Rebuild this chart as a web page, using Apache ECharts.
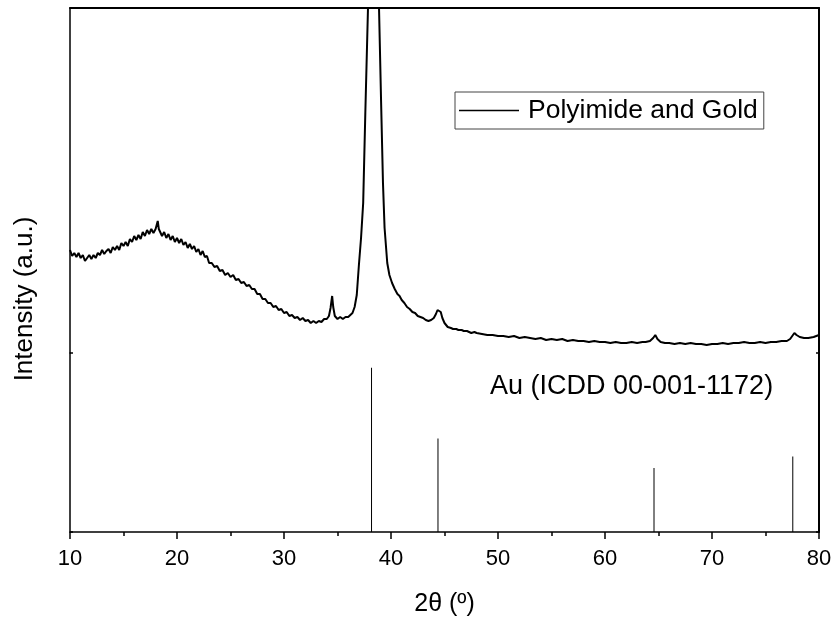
<!DOCTYPE html>
<html>
<head>
<meta charset="utf-8">
<script src="https://cdn.jsdelivr.net/npm/echarts@6/dist/echarts.min.js"></script>
<style>html,body{margin:0;padding:0;background:#fff;}#c{width:836px;height:623px;}</style>
</head>
<body>
<div id="c"></div>
<script>
// measured pattern: [2θ (deg), intensity (a.u.)]
var xrdPattern = [
  [10.0,103],[10.2,97],[10.4,100],[10.6,96],[10.8,100],[11.0,95],[11.2,98],[11.4,92],[11.6,95],[11.8,98],
  [12.0,94],[12.2,98],[12.4,95],[12.6,100],[12.8,98],[13.0,103],[13.2,99],[13.4,102],[13.6,104],[13.8,100],
  [14.0,106],[14.2,103],[14.4,107],[14.6,103],[14.8,110],[15.0,107],[15.2,111],[15.4,107],[15.6,114],[15.8,111],
  [16.0,117],[16.2,113],[16.4,118],[16.6,114],[16.8,121],[17.0,117],[17.2,123],[17.4,119],[17.6,124],[17.8,120],
  [18.0,124],[18.1,128],[18.2,132],[18.3,124],[18.4,122],[18.6,117],[18.8,121],[19.0,115],[19.2,119],[19.4,113],
  [19.6,117],[19.8,111],[20.0,115],[20.2,110],[20.4,114],[20.6,108],[20.8,111],[21.0,105],[21.2,109],[21.4,104],
  [21.6,107],[21.8,101],[22.0,104],[22.2,98],[22.4,102],[22.6,96],[22.8,97],[23.0,90],
  [23.25,90],[23.5,86],[23.75,87],[24.0,82],[24.25,83],[24.5,78],[24.75,80],[25.0,76],[25.25,78],[25.5,73],
  [25.75,74],[26.0,70],[26.25,71],[26.5,67],[26.75,68],[27.0,64],[27.25,64],[27.5,59],[27.75,59],[28.0,54],
  [28.25,54],[28.5,50],[28.75,50],[29.0,46],[29.25,47],[29.5,43],[29.75,44],[30.0,40],[30.25,41],[30.5,37],
  [30.75,38],[31.0,35],[31.25,36],[31.5,33],[31.75,35],[32.0,32],[32.25,33],[32.5,30],[32.75,32],[33.0,30],
  [33.25,32],[33.5,31],[33.75,34],[34.0,34],[34.2,37],[34.35,45],[34.5,57],[34.6,46],[34.75,37],[35.0,34],
  [35.25,36],[35.5,34],[35.75,36],[36.0,36],[36.2,38],[36.4,40],[36.6,46],[36.8,58],[37.0,88],[37.2,115],
  [37.4,150],[37.6,240],[37.85,345],[38.1,600],[38.36,720],[38.6,600],[38.88,345],[39.07,253],[39.25,170],[39.4,125],
  [39.65,90],[39.85,78],[40.1,70],[40.35,64],[40.6,59],[40.8,57],[41.0,53],[41.25,50],[41.5,46],[41.75,44],
  [42.0,41],[42.25,40],[42.5,37],[42.75,36],[43.0,35],[43.25,33],[43.5,32],[43.75,33],[44.0,35],[44.2,39],
  [44.35,43],[44.5,45],[44.65,41],[44.8,35],[45.0,30],[45.3,26],[45.6,25],[45.8,24],[46.1,24],[46.3,23],
  [46.6,23],[46.8,22],[47.1,22],[47.5,20],[47.8,21],[48.0,20],[48.5,19],[49.0,18],[49.5,18],[50.0,17],
  [50.5,17],[51.0,16],[51.5,17],[52.0,15],[52.5,16],[53.0,15],[53.5,14],[54.0,15],[54.5,13],[55.0,14],
  [55.5,13],[56.0,14],[56.5,12],[57.0,13],[57.5,12],[58.0,12],[58.5,11],[59.0,12],[59.5,11],[60.0,11],
  [60.5,10],[61.0,11],[61.5,10],[62.0,10],[62.5,11],[63.0,10],[63.5,11],[63.8,11],[64.2,12],[64.5,15],
  [64.7,18],[64.9,14],[65.2,11],[65.6,10],[66.0,10],[66.5,9],[67.0,10],[67.5,9],[68.0,10],[68.5,9],
  [69.0,9],[69.5,8],[70.0,9],[70.5,9],[71.0,10],[71.5,9],[72.0,10],[72.5,10],[73.0,11],[73.5,10],
  [74.0,10],[74.5,11],[75.0,10],[75.5,11],[76.0,11],[76.5,12],[77.0,12],[77.3,14],[77.5,17],[77.7,20],
  [77.9,18],[78.2,16],[78.6,15],[79.0,15],[79.5,16],[80.0,18]
];
// Au reference (ICDD 00-001-1172)
var refTheta = [38.18, 44.39, 64.58, 77.55];
var refIntensity = [100, 57, 39, 46];
var xTicks = [10, 20, 30, 40, 50, 60, 70, 80];
var upperMax = 345;
var lowerMax = 109;

var FONT = 'Liberation Sans, Arial, Helvetica, sans-serif';
var chart = echarts.init(document.getElementById('c'));
var barData = refTheta.map(function (t, i) { return [t, refIntensity[i]]; });
function axLine(w) { return {show: true, onZero: false, lineStyle: {color: '#000', width: w || 1.5}}; }

chart.setOption({
  animation: false,
  grid: [
    {left: 70, right: 17, top: 8, height: 345},
    {left: 70, right: 17, top: 353, height: 179}
  ],
  xAxis: [
    {gridIndex: 0, type: 'value', position: 'top', min: xTicks[0], max: xTicks[xTicks.length - 1],
     axisLine: axLine(2), axisTick: {show: false}, axisLabel: {show: false}, splitLine: {show: false}},
    {gridIndex: 1, type: 'value', position: 'bottom', min: xTicks[0], max: xTicks[xTicks.length - 1], interval: 10,
     axisLine: axLine(),
     axisTick: {show: true, inside: false, length: 7, lineStyle: {color: '#000', width: 1.5}},
     minorTick: {show: true, splitNumber: 2, length: 4, lineStyle: {color: '#000', width: 1.5}},
     axisLabel: {color: '#000', fontSize: 22, fontFamily: FONT, margin: 16},
     splitLine: {show: false},
     name: '2\u03B8 (\u00BA)', nameLocation: 'middle', nameGap: 60,
     nameTextStyle: {color: '#000', fontSize: 25, fontFamily: FONT}}
  ],
  yAxis: [
    {gridIndex: 0, type: 'value', min: 0, max: upperMax, position: 'left',
     axisLine: axLine(), axisTick: {show: false}, axisLabel: {show: false}, splitLine: {show: false}},
    {gridIndex: 0, type: 'value', min: 0, max: upperMax, position: 'right',
     axisLine: axLine(2), axisTick: {show: false}, axisLabel: {show: false}, splitLine: {show: false}},
    {gridIndex: 1, type: 'value', min: 0, max: lowerMax, interval: lowerMax, position: 'left',
     axisLine: axLine(), axisTick: {show: true, inside: true, length: 3, lineStyle: {color: '#000', width: 1.5}},
     axisLabel: {show: false}, splitLine: {show: false}},
    {gridIndex: 1, type: 'value', min: 0, max: lowerMax, interval: lowerMax, position: 'right',
     axisLine: axLine(2), axisTick: {show: true, inside: true, length: 3, lineStyle: {color: '#000', width: 1.5}},
     axisLabel: {show: false}, splitLine: {show: false}}
  ],
  legend: {
    left: 455, top: 92, padding: [5, 6, 5, 4], itemWidth: 60, itemHeight: 14, itemGap: 0,
    borderColor: '#444', borderWidth: 1,
    textStyle: {color: '#000', fontSize: 26.5, fontFamily: FONT, padding: [0, 0, 0, 4]},
    data: [{name: 'Polyimide and Gold', icon: 'path://M0,0 L60,0 L60,1.6 L0,1.6 Z', itemStyle: {color: '#000'}}]
  },
  title: {
    text: 'Au (ICDD 00-001-1172)', left: 485, top: 368,
    textStyle: {color: '#000', fontSize: 27, fontWeight: 'normal', fontFamily: FONT}
  },
  graphic: [
    {type: 'text', x: 25, y: 299, rotation: Math.PI / 2,
     style: {text: 'Intensity (a.u.)', fill: '#000', font: '26px ' + FONT, textAlign: 'center', textVerticalAlign: 'middle'}}
  ],
  series: [
    {name: 'Polyimide and Gold', type: 'line', xAxisIndex: 0, yAxisIndex: 0, data: xrdPattern,
     symbol: 'none', clip: true, lineStyle: {color: '#000', width: 2}, itemStyle: {color: '#000'}},
    {name: 'Au ref', type: 'bar', xAxisIndex: 1, yAxisIndex: 2, data: barData, barWidth: 1,
     itemStyle: {color: '#000'}}
  ]
});
</script>
</body>
</html>
